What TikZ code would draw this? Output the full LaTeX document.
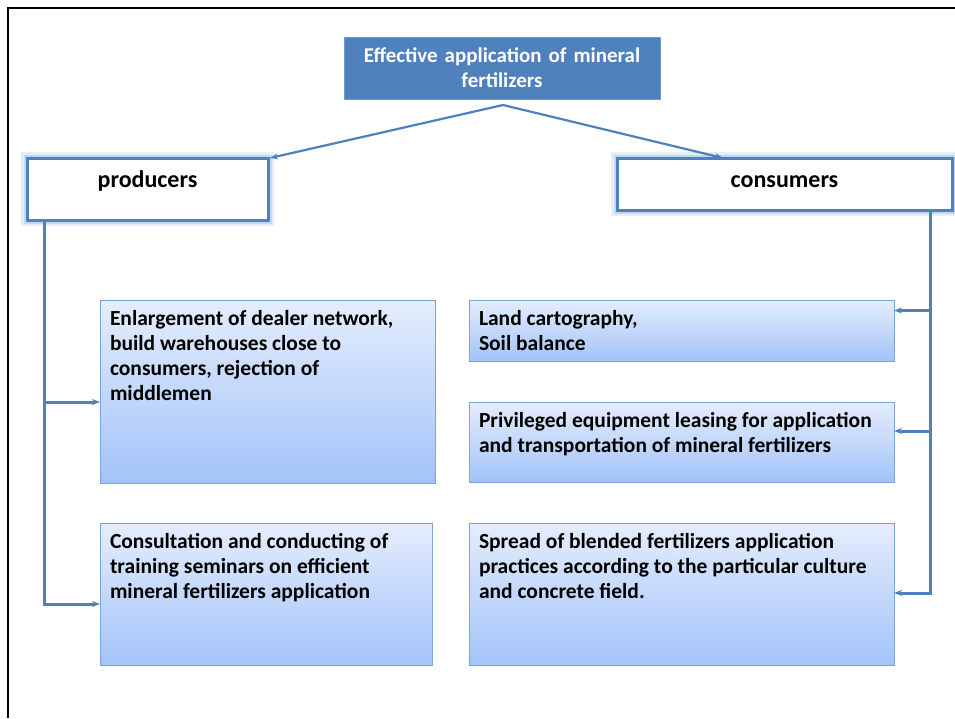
\documentclass[tikz,border=0pt]{standalone}
\usepackage{fontspec}
\setmainfont{Carlito}
\usetikzlibrary{arrows.meta,calc}
\definecolor{lineblue}{HTML}{4F81BD}
\definecolor{boxborder}{HTML}{7EA3D8}
\definecolor{gtop}{HTML}{E4EDFD}
\definecolor{gbot}{HTML}{A3C3F8}
\definecolor{glowc}{HTML}{A8C9F2}
\tikzset{
  conn/.style={draw=lineblue, line width=3pt},
  thinconn/.style={draw=lineblue, line width=2.2pt, -{Stealth[length=8pt,width=6pt]}},
  arr/.style={conn, -{Stealth[length=8pt,width=6pt]}},
  itembox/.style={draw=boxborder, line width=1pt, top color=gtop, bottom color=gbot,
    inner xsep=10pt, inner ysep=7.5pt, anchor=north west, outer sep=0pt,
    font=\bfseries\fontsize{21.5}{25}\selectfont, text=black},
  headbox/.style={fill=lineblue, draw=lineblue!80!white, line width=0.8pt, text=white,
    align=center, anchor=north west, outer sep=0pt, inner sep=0pt,
    font=\bfseries\fontsize{21}{25}\selectfont},
  groupbox/.style={fill=white, draw=lineblue, line width=3pt, anchor=north west,
    outer sep=0pt, inner xsep=0pt, inner ysep=12pt,
    preaction={draw=glowc, line width=12pt, opacity=0.3},
    preaction={draw=glowc, line width=7pt, opacity=0.6},
    font=\bfseries\fontsize{24}{25}\selectfont, text=black},
}
\begin{document}
\begin{tikzpicture}[x=1pt,y=-1pt]
\useasboundingbox (0,0) rectangle (955,718);
% frame
\draw[line width=2pt, black] (8,718) -- (8,8) -- (955,8);
% top
\node[headbox, minimum width=316pt, minimum height=62pt, text width=306pt] (top) at (344,37)
  {Effective application of mineral\\fertilizers};
% groups
\node[groupbox] (prod) at (27,158) {\parbox[t][38pt][t]{241pt}{\centering\strut producers}};
\node[groupbox] (cons) at (617,158) {\parbox[t][28pt][t]{335pt}{\centering\strut consumers}};
% items left
\node[itembox] (b1) at (100,300) {\parbox[t][168pt][t]{315pt}{\raggedright\strut Enlargement of dealer network,\\ build warehouses close to\\ consumers, rejection of\\ middlemen}};
\node[itembox] (b2) at (100,523) {\parbox[t][127pt][t]{312pt}{\raggedright\strut Consultation and conducting of\\ training seminars on efficient\\ mineral fertilizers application}};
% items right
\node[itembox] (b3) at (469,300) {\parbox[t][46pt][t]{405pt}{\raggedright\strut Land cartography,\\ Soil balance}};
\node[itembox] (b4) at (469,402) {\parbox[t][65pt][t]{405pt}{\raggedright\strut Privileged equipment leasing for application\\ and transportation of mineral fertilizers}};
\node[itembox] (b5) at (469,523) {\parbox[t][127pt][t]{405pt}{\raggedright\strut Spread of blended fertilizers application\\ practices according to the particular culture\\ and concrete field.}};
% connectors from top
\coordinate (apex) at ($(top.south)+(1,6)$);
\coordinate (ctgt) at ($(cons.north west)+(106,0)$);
\draw[thinconn] (apex) -- ($(prod.north east)+(2,0)$);
\draw[thinconn] (apex) -- (ctgt);
% producers tree
\coordinate (pl) at ($(prod.south west)+(17,0)$);
\coordinate (t1) at ([yshift=-10.5pt]b1.west);
\coordinate (t2) at ([yshift=-10pt]b2.west);
\draw[arr] (pl) |- (t2);
\draw[arr] (pl |- t1) -- (t1);
% consumers tree
\coordinate (cr) at ($(cons.south west)+(313,0)$);
\coordinate (t3) at ([yshift=20pt]b3.east);
\coordinate (t4) at ([yshift=11pt]b4.east);
\coordinate (t5) at ([yshift=1pt]b5.east);
\draw[arr] (cr) |- (t5);
\draw[arr] (cr |- t3) -- (t3);
\draw[arr] (cr |- t4) -- (t4);
\end{tikzpicture}
\end{document}
